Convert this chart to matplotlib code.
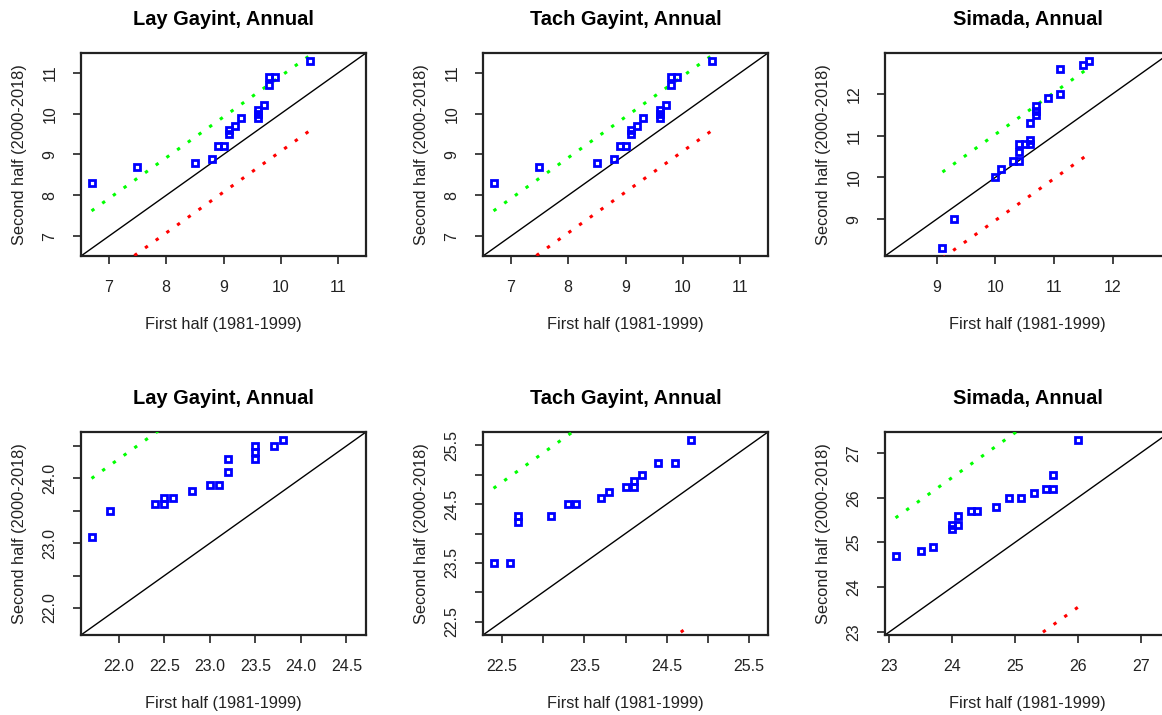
import matplotlib
matplotlib.use("Agg")
from matplotlib import pyplot as plt

plt.rcParams['font.family'] = ['Liberation Sans', 'DejaVu Sans']

titles = ["Lay Gayint, Annual", "Tach Gayint, Annual", "Simada, Annual",
          "Lay Gayint, Annual", "Tach Gayint, Annual", "Simada, Annual"]

# sorted first half vs sorted second half (quantile pairs)
first_half = [
    [6.7, 7.5, 8.5, 8.8, 8.9, 9.0, 9.1, 9.1, 9.2, 9.3, 9.6, 9.6, 9.6, 9.7, 9.8, 9.8, 9.9, 10.5],
    [6.7, 7.5, 8.5, 8.8, 8.9, 9.0, 9.1, 9.1, 9.2, 9.3, 9.6, 9.6, 9.6, 9.7, 9.8, 9.8, 9.9, 10.5],
    [9.1, 9.3, 10.0, 10.1, 10.3, 10.4, 10.4, 10.4, 10.5, 10.6, 10.6, 10.6, 10.7, 10.7, 10.7, 10.9, 11.1, 11.1, 11.5, 11.6],
    [21.7, 21.9, 22.4, 22.5, 22.5, 22.6, 22.8, 23.0, 23.1, 23.2, 23.2, 23.5, 23.5, 23.5, 23.7, 23.8],
    [22.4, 22.6, 22.7, 22.7, 23.1, 23.3, 23.4, 23.7, 23.8, 24.0, 24.1, 24.1, 24.2, 24.4, 24.6, 24.8],
    [23.1, 23.5, 23.7, 24.0, 24.0, 24.1, 24.1, 24.3, 24.4, 24.7, 24.9, 25.1, 25.3, 25.5, 25.6, 25.6, 26.0],
]
second_half = [
    [8.3, 8.7, 8.8, 8.9, 9.2, 9.2, 9.5, 9.6, 9.7, 9.9, 9.9, 10.0, 10.1, 10.2, 10.7, 10.9, 10.9, 11.3],
    [8.3, 8.7, 8.8, 8.9, 9.2, 9.2, 9.5, 9.6, 9.7, 9.9, 9.9, 10.0, 10.1, 10.2, 10.7, 10.9, 10.9, 11.3],
    [8.3, 9.0, 10.0, 10.2, 10.4, 10.4, 10.6, 10.8, 10.8, 10.8, 10.9, 11.3, 11.5, 11.6, 11.7, 11.9, 12.0, 12.6, 12.7, 12.8],
    [23.1, 23.5, 23.6, 23.6, 23.7, 23.7, 23.8, 23.9, 23.9, 24.1, 24.3, 24.3, 24.4, 24.5, 24.5, 24.6],
    [23.5, 23.5, 24.2, 24.3, 24.3, 24.5, 24.5, 24.6, 24.7, 24.8, 24.8, 24.9, 25.0, 25.2, 25.2, 25.6],
    [24.7, 24.8, 24.9, 25.3, 25.4, 25.4, 25.6, 25.7, 25.7, 25.8, 26.0, 26.0, 26.1, 26.2, 26.2, 26.5, 27.3],
]

# upper (green) and lower (red) bound lines, end points
upper_x = [[6.7, 10.5], [6.7, 10.5], [9.1, 11.6], [21.7, 23.8], [22.4, 24.8], [23.1, 26.0]]
upper_y = [[7.62, 11.42], [7.62, 11.42], [10.13, 12.63], [24.0, 26.1], [24.77, 27.17], [25.55, 28.45]]
lower_x = upper_x
lower_y = [[5.78, 9.58], [5.78, 9.58], [8.07, 10.57], [19.4, 21.5], [20.05, 22.45], [20.65, 23.55]]

ticks = [
    [7, 8, 9, 10, 11], [7, 8, 9, 10, 11], [9, 10, 11, 12],
    [22.0, 22.5, 23.0, 23.5, 24.0, 24.5], [22.5, 23.0, 23.5, 24.0, 24.5, 25.0, 25.5], [23, 24, 25, 26, 27],
]
xtick_labels = [
    ["7", "8", "9", "10", "11"], ["7", "8", "9", "10", "11"], ["9", "10", "11", "12"],
    ["22.0", "22.5", "23.0", "23.5", "24.0", "24.5"], ["22.5", "", "23.5", "", "24.5", "", "25.5"],
    ["23", "24", "25", "26", "27"],
]
ytick_labels = [
    ["7", "8", "9", "10", "11"], ["7", "8", "9", "10", "11"], ["9", "10", "11", "12"],
    ["22.0", "", "23.0", "", "24.0", ""], ["22.5", "", "23.5", "", "24.5", "", "25.5"],
    ["23", "24", "25", "26", "27"],
]

W, H = 1162, 715
fig = plt.figure(figsize=(W / 100, H / 100), dpi=100)

# axes boxes in pixels: left, top, width, height
lefts = [81, 483, 885]
tops = [53, 432]
aw, ah = 285, 203

for i in range(6):
    r, c = divmod(i, 3)
    ax = fig.add_axes([lefts[c] / W, 1 - (tops[r] + ah) / H, aw / W, ah / H])
    xs, ys = first_half[i], second_half[i]
    lo = min(min(xs), min(ys))
    hi = max(max(xs), max(ys))
    pad = (hi - lo) * 0.04
    lim = (lo - pad, hi + pad)

    ax.plot(lim, lim, color='black', lw=1.0, zorder=2)
    ax.plot(upper_x[i], upper_y[i], color='#00ff00', lw=2.2,
            linestyle=(0, (1.1, 3.2)), dash_capstyle='butt', zorder=3)
    ax.plot(lower_x[i], lower_y[i], color='#ff0000', lw=2.2,
            linestyle=(0, (1.1, 3.2)), dash_capstyle='butt', zorder=3)
    ax.plot(xs, ys, linestyle='none', marker='s', markersize=4.6,
            markerfacecolor='none', markeredgecolor='#0000ff', markeredgewidth=2.0, zorder=4)

    ax.set_xlim(lim)
    ax.set_ylim(lim)
    ax.set_xticks(ticks[i])
    ax.set_xticklabels(xtick_labels[i])
    ax.set_yticks(ticks[i])
    ax.set_yticklabels(ytick_labels[i], rotation=90, va='center')
    ax.tick_params(length=6, width=1.2, pad=11, labelsize=11.5, colors='#222222')
    for s in ax.spines.values():
        s.set_linewidth(1.6)
        s.set_color('#222222')

    ax.set_title(titles[i], fontsize=14.4, fontweight='bold', pad=20)
    ax.set_xlabel("First half (1981-1999)", fontsize=11.8, labelpad=16, color='#222222')
    ax.set_ylabel("Second half (2000-2018)", fontsize=11.8, labelpad=11, color='#222222')

fig.savefig("out.png", dpi=100)
